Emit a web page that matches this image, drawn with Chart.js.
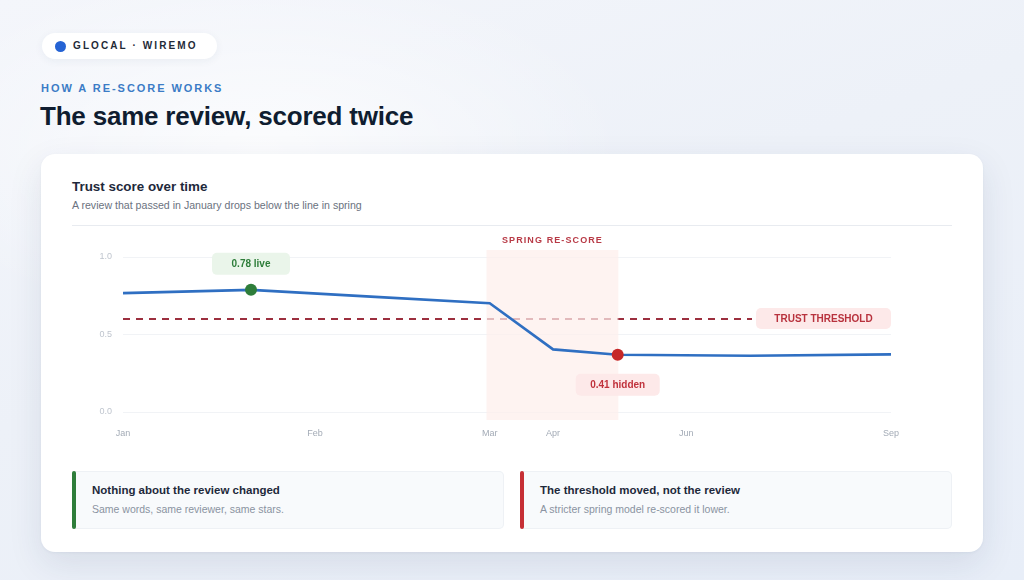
<!DOCTYPE html>
<html>
<head>
<meta charset="utf-8">
<script src="https://cdn.jsdelivr.net/npm/chart.js@4.4.1/dist/chart.umd.min.js"></script>
<style>
  html, body { margin: 0; padding: 0; }
  body {
    width: 1024px; height: 580px; position: relative; overflow: hidden;
    font-family: "Liberation Sans", Arial, sans-serif;
    background:
      radial-gradient(ellipse 520px 260px at 260px 150px, rgba(255,255,255,0.75), rgba(255,255,255,0) 70%),
      linear-gradient(160deg, #f4f6fb 0%, #edf1f8 45%, #e8eef8 100%);
  }
  .brand {
    position: absolute; left: 42px; top: 33px; width: 175px; height: 26px;
    background: #fff; border-radius: 13px; box-shadow: 0 2px 8px rgba(40,60,100,0.06);
  }
  .brand .dot {
    position: absolute; left: 13px; top: 7.5px; width: 11px; height: 11px; border-radius: 50%;
    background: #2563d4;
  }
  .brand .name {
    position: absolute; left: 31px; top: 0; line-height: 26px;
    font-size: 10px; font-weight: bold; letter-spacing: 2.1px; color: #1f2a37;
  }
  .kicker {
    position: absolute; left: 41px; top: 82px;
    font-size: 11px; font-weight: bold; letter-spacing: 1.95px; color: #3b7cc6;
  }
  h1 {
    position: absolute; left: 40px; top: 101px; margin: 0;
    font-size: 26px; font-weight: bold; color: #0f1d30; letter-spacing: -0.2px;
  }
  .card {
    position: absolute; left: 41px; top: 154px; width: 942px; height: 398px;
    background: #fff; border-radius: 14px;
    box-shadow: 0 12px 34px rgba(30,50,90,0.10), 0 1px 3px rgba(30,50,90,0.05);
  }
  .card h2 {
    position: absolute; left: 31px; top: 25px; margin: 0;
    font-size: 13.4px; font-weight: bold; color: #1e293b;
  }
  .card .sub {
    position: absolute; left: 31px; top: 45px;
    font-size: 10.6px; color: #6b7280;
  }
  .card .rule {
    position: absolute; left: 31px; top: 71px; width: 880px; height: 1px; background: #e8ebf0;
  }
  .chartbox { position: absolute; left: 31px; top: 74px; width: 880px; height: 222px; }
  .note {
    position: absolute; top: 317px; width: 432px; height: 58px;
    background: #f8fafc; border-radius: 5px; box-shadow: inset 0 0 0 1px #eef1f5;
  }
  .note .bar { position: absolute; left: 0; top: 0; width: 4px; height: 58px; border-radius: 2px; }
  .note .t { position: absolute; left: 20px; top: 13px; font-size: 11.5px; font-weight: bold; color: #1e293b; }
  .note .d { position: absolute; left: 20px; top: 32px; font-size: 10.5px; color: #8a93a1; }
</style>
</head>
<body>
  <div class="brand"><div class="dot"></div><div class="name">GLOCAL · WIREMO</div></div>
  <div class="kicker">HOW A RE-SCORE WORKS</div>
  <h1>The same review, scored twice</h1>

  <div class="card">
    <h2>Trust score over time</h2>
    <div class="sub">A review that passed in January drops below the line in spring</div>
    <div class="rule"></div>
    <div class="chartbox"><canvas id="trustChart"></canvas></div>

    <div class="note" style="left:31px">
      <div class="bar" style="background:#2e7d3a"></div>
      <div class="t">Nothing about the review changed</div>
      <div class="d">Same words, same reviewer, same stars.</div>
    </div>
    <div class="note" style="left:479px">
      <div class="bar" style="background:#c62f35"></div>
      <div class="t">The threshold moved, not the review</div>
      <div class="d">A stricter spring model re-scored it lower.</div>
    </div>
  </div>

<script>
// month ticks sit where the picture shows them (uneven spacing)
const monthLabels = ['Jan', 'Feb', 'Mar', 'Apr', 'Jun', 'Sep'];
const monthPos = [0, 30, 57.3, 67.2, 88, 120];

// trust score readings
const pointPos = [0, 20, 39.4, 57.3, 67.2, 77.3, 98, 120];
const trustScore = [0.767, 0.788, 0.743, 0.702, 0.404, 0.369, 0.363, 0.372];

const yTicks = [0, 0.5, 1.0];
const threshold = 0.6;
const springStart = 56.8;
const springEnd = 77.4;
const liveIndex = 1;
const hiddenIndex = 5;
const liveText = '0.78 live';
const hiddenText = '0.41 hidden';

const FONT = '"Liberation Sans", Arial, sans-serif';
Chart.defaults.font.family = FONT;

function pill(ctx, cx, cy, w, h, bg, color, text) {
  ctx.save();
  ctx.fillStyle = bg;
  ctx.beginPath();
  ctx.roundRect(cx - w / 2, cy - h / 2, w, h, 5);
  ctx.fill();
  ctx.fillStyle = color;
  ctx.font = 'bold 10px ' + FONT;
  ctx.textAlign = 'center';
  ctx.textBaseline = 'middle';
  ctx.fillText(text, cx, cy + 0.5);
  ctx.restore();
}

const overlay = {
  id: 'overlay',
  beforeDatasetsDraw(chart) {
    const { ctx, chartArea } = chart;
    const x = chart.scales.x, y = chart.scales.y;
    const ty = y.getPixelForValue(threshold);
    const pillW = 135;
    // dashed threshold line, stops at the label
    ctx.save();
    ctx.strokeStyle = '#9c2f3e';
    ctx.lineWidth = 2;
    ctx.setLineDash([7, 6]);
    ctx.beginPath();
    ctx.moveTo(chartArea.left, ty);
    ctx.lineTo(chartArea.right - pillW - 4, ty);
    ctx.stroke();
    ctx.restore();

    // spring band over it
    const bx1 = x.getPixelForValue(springStart), bx2 = x.getPixelForValue(springEnd);
    ctx.save();
    ctx.fillStyle = 'rgba(253,238,236,0.72)';
    ctx.fillRect(bx1, chartArea.top - 7, bx2 - bx1, chartArea.bottom - chartArea.top + 15);
    ctx.fillStyle = '#b83a46';
    ctx.font = 'bold 9px ' + FONT;
    ctx.letterSpacing = '1.1px';
    ctx.textAlign = 'center';
    ctx.textBaseline = 'middle';
    ctx.fillText('SPRING RE-SCORE', (bx1 + bx2) / 2, chartArea.top - 16);
    ctx.restore();

    pill(ctx, chartArea.right - pillW / 2, ty - 0.5, pillW, 21, '#fde9e9', '#b8323d', 'TRUST THRESHOLD');
  },
  afterDatasetsDraw(chart) {
    const { ctx } = chart;
    const x = chart.scales.x, y = chart.scales.y;
    const lx = x.getPixelForValue(pointPos[liveIndex]);
    const ly = y.getPixelForValue(trustScore[liveIndex]);
    pill(ctx, lx, ly - 26, 78, 22, '#eaf5ea', '#2e7d3a', liveText);
    const hx = x.getPixelForValue(pointPos[hiddenIndex]);
    const hy = y.getPixelForValue(trustScore[hiddenIndex]);
    pill(ctx, hx, hy + 30, 84, 22, '#fde9e9', '#c0323c', hiddenText);
  }
};

const radii = pointPos.map((p, i) => (i === liveIndex || i === hiddenIndex) ? 6 : 0);
const dotColors = pointPos.map((p, i) => i === liveIndex ? '#2e7d3a' : '#c62828');

new Chart(document.getElementById('trustChart'), {
  type: 'line',
  data: {
    datasets: [{
      label: 'Trust score',
      data: pointPos.map((p, i) => ({ x: p, y: trustScore[i] })),
      borderColor: '#2f6fc2',
      borderWidth: 2.6,
      tension: 0,
      pointRadius: radii,
      pointHoverRadius: radii,
      pointBackgroundColor: dotColors,
      pointBorderWidth: 0
    }]
  },
  options: {
    responsive: true,
    maintainAspectRatio: false,
    animation: false,
    layout: { padding: { top: 29, right: 61, left: 0, bottom: 0 } },
    plugins: { legend: { display: false }, tooltip: { enabled: false } },
    scales: {
      x: {
        type: 'linear', min: 0, max: 120,
        afterBuildTicks: (scale) => { scale.ticks = monthPos.map(v => ({ value: v })); },
        afterFit: (scale) => { scale.height = 38; },
        ticks: {
          autoSkip: false, maxRotation: 0, padding: 8,
          color: '#a3abb6', font: { size: 9 },
          callback: (v) => monthLabels[monthPos.indexOf(v)]
        },
        grid: { display: false },
        border: { display: false }
      },
      y: {
        min: 0, max: 1,
        afterBuildTicks: (scale) => { scale.ticks = yTicks.map(v => ({ value: v })); },
        afterFit: (scale) => { scale.width = 51; },
        ticks: {
          padding: 11, color: '#bfc5ce', font: { size: 9 },
          callback: (v) => Number(v).toFixed(1)
        },
        grid: { color: '#f1f3f6', drawTicks: false },
        border: { display: false }
      }
    }
  },
  plugins: [overlay]
});
</script>
</body>
</html>
